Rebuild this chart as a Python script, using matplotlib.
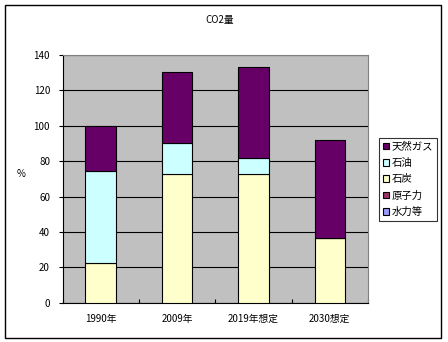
import numpy as np
import matplotlib
matplotlib.use("Agg")
import matplotlib.pyplot as plt
from matplotlib.patches import Rectangle

plt.rcParams['font.family'] = ['Noto Sans CJK JP', 'DejaVu Sans']

categories = ["1990年", "2009年", "2019年想定", "2030想定"]
series_names = ["水力等", "原子力", "石炭", "石油", "天然ガス"]
hydro = [0, 0, 0, 0]
nuclear = [0, 0, 0, 0]
coal = [22.3, 72.6, 72.6, 36.7]
oil = [52.0, 17.5, 9.0, 0]
gas = [25.7, 40.1, 51.5, 55.1]
colors = ["#9999FF", "#993366", "#FFFFCC", "#CCFFFF", "#660066"]

W, H = 448, 342
fig = plt.figure(figsize=(W / 100, H / 100), dpi=100)
fig.patches.append(Rectangle((5 / W, 4 / H), 436 / W, 333 / H, transform=fig.transFigure,
                             fill=False, edgecolor="black", linewidth=1.0))

ax = fig.add_axes([62.5 / W, (H - 302.7) / H, 305.5 / W, 247.7 / H])
ax.set_facecolor("#C0C0C0")

x = np.arange(len(categories))
bottom = np.zeros(len(categories))
data = [hydro, nuclear, coal, oil, gas]
handles = []
for name, vals, col in zip(series_names, data, colors):
    vals = np.array(vals, dtype=float)
    b = ax.bar(x, vals, width=0.4, bottom=bottom, color=col, edgecolor="black",
               linewidth=0.8, label=name, zorder=3)
    handles.append(b)
    bottom += vals

ax.set_xlim(-0.5, len(categories) - 0.5)
ax.set_ylim(0, 140)
ax.set_yticks(range(0, 141, 20))
ax.yaxis.grid(True, color="black", linewidth=0.8, zorder=0)
ax.set_axisbelow(True)
ax.set_xticks(x)
ax.set_xticklabels(categories, fontsize=7)
ax.tick_params(axis="x", length=0, pad=8)
ax.set_xticks(np.arange(-0.5, len(categories), 1), minor=True)
ax.tick_params(axis="x", which="minor", direction="in", length=3, width=0.8)
ax.tick_params(axis="y", labelsize=7, length=3, width=0.8, pad=6)
for s in ["top", "right"]:
    ax.spines[s].set_color("#808080")
    ax.spines[s].set_linewidth(0.8)
for s in ["left", "bottom"]:
    ax.spines[s].set_linewidth(0.8)

ax.set_ylabel("%", fontsize=7, rotation=0, labelpad=9)
fig.text(220 / W, 1 - 20 / H, "CO2量", fontsize=7, ha="center", va="center")

leg = ax.legend(handles[::-1], series_names[::-1], loc="upper left",
                bbox_to_anchor=(379 / W, 1 - 138 / H), bbox_transform=fig.transFigure,
                fontsize=7.5, frameon=True, fancybox=False, edgecolor="black",
                handlelength=0.6, handleheight=0.6, handletextpad=0.25,
                labelspacing=0.6, borderpad=0.35, borderaxespad=0)
leg.get_frame().set_linewidth(0.8)

fig.savefig("out.png", dpi=100)
